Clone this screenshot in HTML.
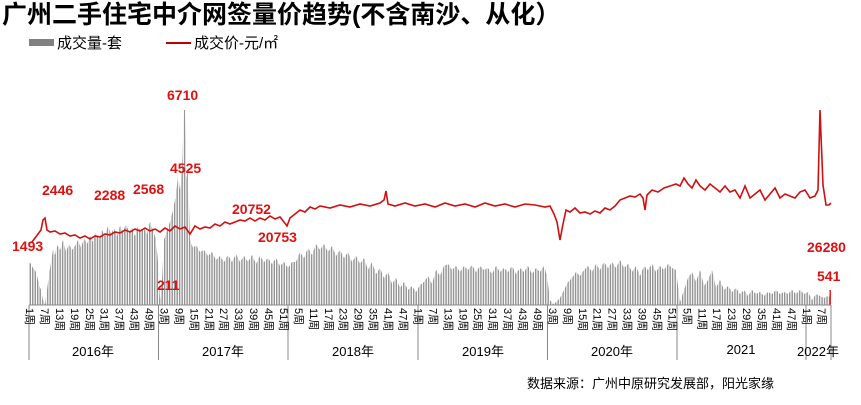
<!DOCTYPE html>
<html><head><meta charset="utf-8"><style>
body{margin:0;background:#fff;}
svg text{font-family:"Liberation Sans","Noto Sans CJK SC",sans-serif;}
</style></head><body>
<svg width="861" height="400" xmlns="http://www.w3.org/2000/svg">
<defs>
<pattern id="bp" patternUnits="userSpaceOnUse" x="29" y="0" width="2.49" height="400">
<rect x="0.6" y="0" width="1.3" height="400" fill="#8a8a8a"/>
</pattern>
</defs>
<rect width="861" height="400" fill="#fff"/>
<text x="2" y="23" font-size="25" font-weight="bold" fill="#000">广州二手住宅中介网签量价趋势(不含南沙、从化）</text>
<rect x="29" y="39" width="25" height="7" fill="#808080"/>
<text x="57" y="48" font-size="15" fill="#000">成交量-套</text>
<line x1="166" y1="43" x2="191" y2="43" stroke="#c00000" stroke-width="2"/>
<text x="194" y="48" font-size="15" fill="#000">成交价-元/㎡</text>

<polygon fill="url(#bp)" points="29,262 31,264 33,268 35,270 37,275 39,285 41,290 43,300 45,304 47,290 49,275 51,262 53,250 55,255 57,245 60,250 63,240 66,252 69,244 72,250 75,246 78,240 81,248 84,238 87,244 90,236 93,242 96,232 99,240 102,230 105,236 108,226 111,234 114,228 117,236 120,226 123,232 126,224 129,232 132,228 135,236 138,226 141,232 144,228 147,234 150,222 153,230 156,240 158,262 160,300 162,280 164,240 167,230 170,222 173,210 176,195 178,175 180,190 182,170 184,110 185,110 186,180 188,170 190,240 193,248 196,245 200,252 204,250 208,256 212,252 216,260 220,256 224,262 228,255 232,262 236,254 240,262 244,256 248,262 252,255 256,264 260,256 264,262 268,258 272,264 276,258 280,266 284,262 288,268 292,262 296,262 300,252 304,258 308,248 312,255 316,244 320,250 324,244 328,252 332,246 336,256 340,250 344,258 348,252 352,262 356,256 360,264 364,258 368,270 372,262 376,274 380,268 384,278 388,272 392,284 396,278 400,288 404,282 408,290 412,286 416,292 420,285 424,282 428,276 432,284 436,270 440,276 444,266 448,264 452,270 456,266 460,272 464,266 468,270 472,265 476,272 480,266 484,270 488,268 492,274 496,266 500,272 504,268 508,272 512,266 516,274 520,268 524,272 528,266 532,274 536,268 540,272 544,266 547,276 550,300 553,304 556,302 560,298 564,290 568,282 572,278 576,272 580,276 584,270 588,266 592,272 596,264 600,270 604,262 608,268 612,262 616,268 620,260 624,268 628,264 632,272 636,266 640,276 644,266 648,270 652,264 656,272 660,266 664,270 668,264 672,268 676,270 680,302 684,290 688,278 692,272 696,282 700,270 704,286 708,280 712,270 716,288 720,280 724,290 728,286 732,292 736,288 740,294 744,290 748,296 752,290 756,294 760,292 764,296 768,292 772,294 776,290 780,294 784,292 788,294 792,290 796,294 800,290 804,294 808,292 812,300 816,294 820,296 824,298 828,296 831,297 831,305 29,305"/>
<rect x="829.5" y="290" width="1.4" height="15" fill="#e01010"/>

<polyline fill="none" stroke="#d01010" stroke-width="1.6" points="29,243 32,242 35,238 38,234 41,230 43,220 45,218 47,230 50,232 55,231 60,234 65,233 70,236 75,235 80,238 85,236 90,239 95,236 100,237 105,234 110,235 115,232 120,233 125,230 130,232 135,229 140,231 145,228 150,231 155,229 160,232 165,228 170,231 175,226 180,229 185,227 190,234 195,226 200,229 205,227 210,228 215,224 220,226 225,222 230,224 235,222 240,220 245,221 250,218 255,221 260,218 265,220 270,216 275,219 280,217 284,222 287,226 290,218 295,214 300,210 305,212 310,207 315,209 320,206 330,208 340,205 350,207 360,204 370,206 380,203 384,200 386,191 388,204 395,206 405,203 415,206 425,204 435,207 445,203 455,206 465,204 475,207 485,203 495,206 505,204 515,207 525,204 535,205 545,207 550,206 554,214 557,222 560,240 563,224 566,210 570,212 575,208 580,213 585,212 590,214 595,211 600,213 605,208 610,210 615,206 620,200 625,198 630,196 635,197 640,194 643,198 645,210 647,195 652,190 658,192 664,188 670,186 676,184 680,186 684,178 688,184 692,188 696,180 700,186 705,190 710,184 715,188 720,192 725,186 730,192 735,190 740,198 745,186 750,198 755,194 760,190 765,200 770,194 775,188 780,198 785,194 790,196 795,198 800,192 805,190 810,198 815,196 818,190 820,110 823,185 826,205 829,205 831,203"/>

<g stroke="#888" stroke-width="1">
<line x1="29" y1="305" x2="831" y2="305"/>
<line x1="29" y1="305" x2="29" y2="360"/>
<line x1="158.5" y1="305" x2="158.5" y2="360"/>
<line x1="288" y1="305" x2="288" y2="360"/>
<line x1="418" y1="305" x2="418" y2="360"/>
<line x1="547.5" y1="305" x2="547.5" y2="360"/>
<line x1="677" y1="305" x2="677" y2="360"/>
<line x1="806" y1="305" x2="806" y2="360"/>
<line x1="831" y1="305" x2="831" y2="360"/>
</g>
<g font-size="13" fill="#000" text-anchor="middle">
<text x="93" y="356">2016年</text>
<text x="223" y="356">2017年</text>
<text x="353" y="356">2018年</text>
<text x="483" y="356">2019年</text>
<text x="612" y="356">2020年</text>
<text x="741" y="354">2021</text>
<text x="818" y="356">2022年</text>
</g>
<g font-size="11" fill="#000">
<text transform="translate(26,308) rotate(90)">1周</text>
<text transform="translate(40.9,308) rotate(90)">7周</text>
<text transform="translate(55.9,308) rotate(90)">13周</text>
<text transform="translate(70.8,308) rotate(90)">19周</text>
<text transform="translate(85.8,308) rotate(90)">25周</text>
<text transform="translate(100.7,308) rotate(90)">31周</text>
<text transform="translate(115.6,308) rotate(90)">37周</text>
<text transform="translate(130.6,308) rotate(90)">43周</text>
<text transform="translate(145.5,308) rotate(90)">49周</text>
<text transform="translate(160.5,308) rotate(90)">3周</text>
<text transform="translate(175.4,308) rotate(90)">9周</text>
<text transform="translate(190.3,308) rotate(90)">15周</text>
<text transform="translate(205.3,308) rotate(90)">21周</text>
<text transform="translate(220.2,308) rotate(90)">27周</text>
<text transform="translate(235.2,308) rotate(90)">33周</text>
<text transform="translate(250.1,308) rotate(90)">39周</text>
<text transform="translate(265,308) rotate(90)">45周</text>
<text transform="translate(280,308) rotate(90)">51周</text>
<text transform="translate(294.9,308) rotate(90)">5周</text>
<text transform="translate(309.9,308) rotate(90)">11周</text>
<text transform="translate(324.8,308) rotate(90)">17周</text>
<text transform="translate(339.7,308) rotate(90)">23周</text>
<text transform="translate(354.7,308) rotate(90)">29周</text>
<text transform="translate(369.6,308) rotate(90)">35周</text>
<text transform="translate(384.6,308) rotate(90)">41周</text>
<text transform="translate(399.5,308) rotate(90)">47周</text>
<text transform="translate(414.4,308) rotate(90)">1周</text>
<text transform="translate(429.4,308) rotate(90)">7周</text>
<text transform="translate(444.3,308) rotate(90)">13周</text>
<text transform="translate(459.3,308) rotate(90)">19周</text>
<text transform="translate(474.2,308) rotate(90)">25周</text>
<text transform="translate(489.1,308) rotate(90)">31周</text>
<text transform="translate(504.1,308) rotate(90)">37周</text>
<text transform="translate(519,308) rotate(90)">43周</text>
<text transform="translate(534,308) rotate(90)">49周</text>
<text transform="translate(548.9,308) rotate(90)">3周</text>
<text transform="translate(563.8,308) rotate(90)">9周</text>
<text transform="translate(578.8,308) rotate(90)">15周</text>
<text transform="translate(593.7,308) rotate(90)">21周</text>
<text transform="translate(608.7,308) rotate(90)">27周</text>
<text transform="translate(623.6,308) rotate(90)">33周</text>
<text transform="translate(638.5,308) rotate(90)">39周</text>
<text transform="translate(653.5,308) rotate(90)">45周</text>
<text transform="translate(668.4,308) rotate(90)">51周</text>
<text transform="translate(683.4,308) rotate(90)">5周</text>
<text transform="translate(698.3,308) rotate(90)">11周</text>
<text transform="translate(713.2,308) rotate(90)">17周</text>
<text transform="translate(728.2,308) rotate(90)">23周</text>
<text transform="translate(743.1,308) rotate(90)">29周</text>
<text transform="translate(758.1,308) rotate(90)">35周</text>
<text transform="translate(773,308) rotate(90)">41周</text>
<text transform="translate(787.9,308) rotate(90)">47周</text>
<text transform="translate(802.9,308) rotate(90)">1周</text>
<text transform="translate(817.8,308) rotate(90)">7周</text>
</g>

<g font-size="14" font-weight="bold" fill="#e01010">
<text x="167" y="100">6710</text>
<text x="170" y="173">4525</text>
<text x="12" y="251">1493</text>
<text x="42" y="195">2446</text>
<text x="94" y="200">2288</text>
<text x="133" y="194">2568</text>
<text x="232" y="214">20752</text>
<text x="258" y="242">20753</text>
<text x="157" y="290">211</text>
<text x="807" y="252">26280</text>
<text x="817" y="281">541</text>
</g>
<text x="527" y="388" font-size="13" fill="#000">数据来源：广州中原研究发展部，阳光家缘</text>
</svg>
</body></html>
